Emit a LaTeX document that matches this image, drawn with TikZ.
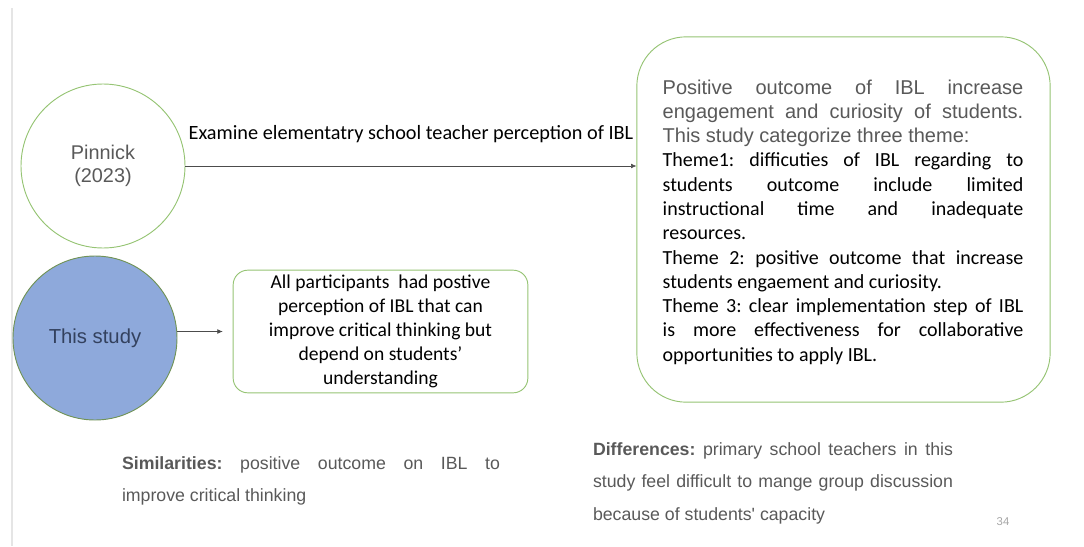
\documentclass[tikz,border=0pt]{standalone}
\usepackage{fontspec}
\setmainfont{Carlito}
\newfontfamily\arialf{Liberation Sans}
\usepackage{tikz}
\usetikzlibrary{positioning}
\usetikzlibrary{arrows.meta}
\definecolor{rimgreen}{HTML}{96C474}
\definecolor{studyblue}{HTML}{8EA9DB}
\definecolor{textgray}{HTML}{595959}
\definecolor{studyink}{HTML}{33415E}
\frenchspacing

\begin{document}
\begin{tikzpicture}[x=0.75pt,y=-0.75pt,
    main/.style = {draw=rimgreen, circle, line width=0.7pt, minimum size=123pt, inner sep=0pt, font=\arialf\fontsize{14.9}{17.5}\selectfont, align=center},
    box/.style = {draw=rimgreen, line width=0.7pt, fill=white},
    link/.style = {draw=black!70, -{Latex[length=4pt,width=3.5pt]}}]
      \useasboundingbox (0,0) rectangle (1084,546);
      \draw[line width=2.2pt, black!10] (12,8) -- (12,546);
      \node[main, text=textgray](pin) at (103,166){Pinnick\\(2023)};
      \node[main, fill=studyblue, draw=rimgreen!75!black, text=studyink, font=\arialf\fontsize{15.2}{18}\selectfont](this) at (95,338){This study};
      \node[box, rounded corners=37pt, minimum width=310pt, minimum height=274pt](res) at (843.5,219.5){};
      \node[text width=270.5pt, align=justify, font=\fontsize{15}{18.2}\selectfont, inner sep=0pt] at (843,222){%
        {\arialf\color{textgray}Positive outcome of IBL increase\linebreak engagement and curiosity of students.\linebreak This study categorize three theme:\par}
        Theme1: difficuties of IBL regarding to\linebreak students outcome include limited\linebreak instructional time and inadequate\linebreak resources.\par
        Theme 2: positive outcome that increase\linebreak students engaement and curiosity.\par
        Theme 3: clear implementation step of IBL\linebreak is more effectiveness for collaborative\linebreak opportunities to apply IBL.};
      \node[box, rounded corners=11pt, minimum width=221pt, minimum height=92pt, align=center, font=\fontsize{14.7}{18}\selectfont](own) at (380.5,331.5){All participants\ \ had postive\\perception of IBL that can\\improve critical thinking but\\depend on students'\\understanding};
      \coordinate[left=7.5pt of own.west](ownin);
      \draw[link] (pin) -- node[above=14pt, font=\fontsize{15.2}{17}\selectfont]{Examine elementatry school teacher perception of IBL} (res.west |- pin);
      \draw[link] (this.east |- ownin) -- (ownin);
      \node[text width=283.5pt, align=justify, inner sep=0pt, font=\arialf\fontsize{13.3}{24}\selectfont, text=textgray](sim) at (311,481){%
        \textbf{Similarities:} positive outcome on IBL to\linebreak improve critical thinking};
      \node[text width=270pt, align=justify, inner sep=0pt, font=\arialf\fontsize{13.3}{24.4}\selectfont, text=textgray](dif) at (773,483){%
        \textbf{Differences:} primary school teachers in this\linebreak study feel difficult to mange group discussion\linebreak because of students' capacity};
      \node[text=black!35, font=\arialf\fontsize{8.5}{10}\selectfont](page) at (1003,522){34};
    \end{tikzpicture}
\end{document}
